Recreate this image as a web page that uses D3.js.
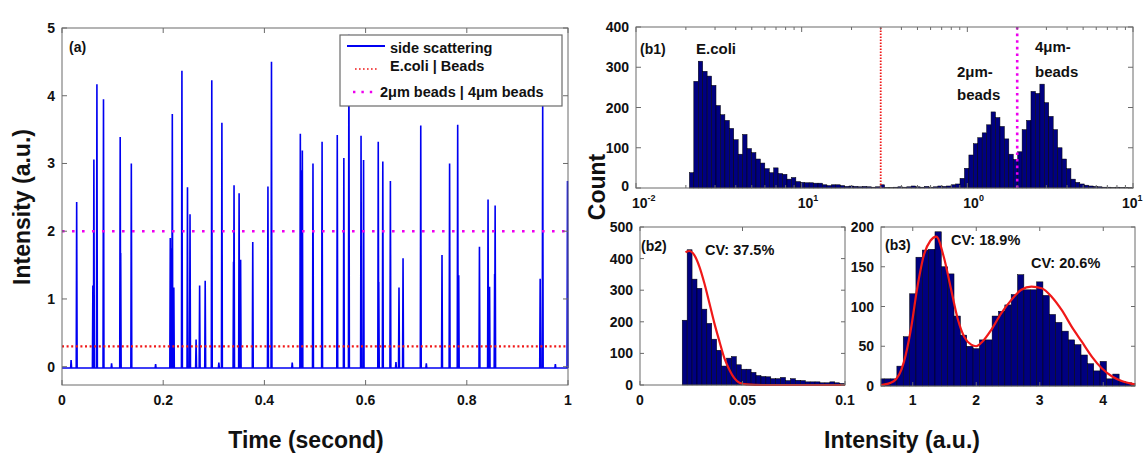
<!DOCTYPE html>
<html>
<head>
<meta charset="utf-8">
<script src="https://cdn.jsdelivr.net/npm/d3@7"></script>
<style>
  body { margin: 0; background: #fff; }
  text { font-family: "Liberation Sans", Arial, sans-serif; font-weight: bold; fill: #111; }
</style>
</head>
<body>
<script>

// VARIABILI PER DOM
//
var width = 1145;
var height = 453;

// PANNELLO (a): PICCHI DEL SEGNALE DI SIDE SCATTERING
//
var spikeTimes = [0.018, 0.029, 0.061, 0.063, 0.069, 0.082, 0.098, 0.115, 0.116, 0.137,
  0.185, 0.214, 0.217, 0.218, 0.221, 0.237, 0.248, 0.253, 0.265, 0.272,
  0.283, 0.296, 0.310, 0.316, 0.339, 0.340, 0.350, 0.353, 0.377, 0.407,
  0.414, 0.455, 0.471, 0.473, 0.475, 0.496, 0.514, 0.544, 0.557, 0.567,
  0.591, 0.596, 0.625, 0.626, 0.634, 0.649, 0.660, 0.666, 0.674, 0.709,
  0.720, 0.751, 0.766, 0.782, 0.784, 0.825, 0.842, 0.845, 0.855, 0.856,
  0.945, 0.950, 0.975, 0.999];
var spikeHeights = [0.10, 2.43, 1.20, 3.06, 4.17, 3.95, 0.05, 3.39, 1.68, 3.00,
  0.04, 1.90, 1.75, 3.73, 1.17, 4.37, 2.65, 2.25, 0.40, 1.20,
  1.27, 4.23, 0.06, 3.60, 1.55, 2.68, 2.56, 1.58, 1.84, 2.66,
  4.50, 0.06, 3.44, 2.90, 3.19, 3.00, 3.32, 3.42, 3.08, 4.90,
  3.41, 3.05, 3.32, 1.25, 3.03, 2.74, 0.07, 1.17, 1.60, 3.56,
  0.05, 1.65, 3.00, 3.57, 1.35, 1.77, 2.47, 1.18, 1.37, 2.38,
  1.30, 3.89, 0.04, 2.74];
var baseLevel = -0.02;
var ecoliThreshold = 0.3;
var beadThreshold = 2;
var timeTicks = [0, 0.2, 0.4, 0.6, 0.8, 1];
var timeTickLabels = ["0", "0.2", "0.4", "0.6", "0.8", "1"];
var intensityTicks = [0, 1, 2, 3, 4, 5];
var legendLabels = ["side scattering", "E.coli | Beads", "2\u03bcm beads | 4\u03bcm beads"];

// PANNELLO (b1): ISTOGRAMMA LOGARITMICO
//
var b1FirstEdge = 0.021;
var b1LogStep = 0.02678;
var b1Counts = [38, 265, 315, 290, 278, 255, 205, 182, 168, 148, 120, 84, 133, 98, 88, 72, 62, 48, 38, 50,
  36, 34, 22, 26, 16, 14, 13, 13, 12, 12, 8, 6, 8, 8, 6, 4, 5, 4, 3, 4,
  3, 2, 3, 8, 1, 1, 2, 3, 2, 3, 5, 3, 2, 4, 2, 3, 5, 4, 5, 8,
  10, 24, 49, 82, 110, 125, 137, 157, 189, 175, 153, 122, 84, 71,
  90, 145, 168, 240, 235, 258, 212, 178, 145, 100, 72, 48, 22, 14, 10, 7, 5, 4, 3, 2, 2, 1, 2, 1, 1, 1];
var b1Ticks = [0.01, 0.1, 1, 10];
var b1TickExponents = ["-2", "1", "0", "1"];
var b1CountTicks = [0, 100, 200, 300, 400];

// PANNELLO (b2): E.COLI
//
var b2FirstEdge = 0.0206;
var b2Step = 0.0024;
var b2Counts = [205, 428, 335, 306, 240, 195, 145, 110, 60, 85, 90, 64, 50, 50, 40, 30, 27, 26, 20, 20,
  24, 14, 20, 15, 14, 10, 10, 10, 7, 7, 10, 7, 5];
var b2FitX = [0.0222, 0.0241, 0.0265, 0.029, 0.0314, 0.0339, 0.0363, 0.0388, 0.0412, 0.0437, 0.0461, 0.0485, 0.052, 0.06, 0.1];
var b2FitY = [420, 424, 411, 374, 322, 258, 195, 137, 84, 47, 21, 7, 2, 0, 0];
var b2XTicks = [0, 0.05, 0.1];
var b2XLabels = ["0", "0.05", "0.1"];
var b2YTicks = [0, 100, 200, 300, 400, 500];

// PANNELLO (b3): BEADS 2um E 4um
//
var b3FirstCenter = 0.5;
var b3Step = 0.1;
var b3Counts = [9, 9, 9, 25, 62, 116, 162, 171, 172, 194, 150, 141, 88, 64, 50, 47, 58, 58, 88, 94,
  102, 115, 140, 121, 121, 131, 114, 90, 80, 69, 58, 52, 39, 28, 19, 31, 9, 15, 6, 4, 3];
var b3FitX = [0.5, 0.7, 0.86, 0.97, 1.07, 1.18, 1.28, 1.37, 1.49, 1.6, 1.71, 1.81, 1.92, 2.0, 2.1,
  2.24, 2.39, 2.55, 2.71, 2.87, 3.03, 3.19, 3.35, 3.5, 3.66, 3.82, 3.98, 4.14, 4.3, 4.5];
var b3FitY = [1, 6, 30, 71, 123, 166, 183, 188, 162, 123, 84, 62, 52, 50, 56,
  71, 91, 108, 121, 125, 123, 112, 95, 75, 56, 37, 22, 12, 6, 2];
var b3XTicks = [1, 2, 3, 4];
var b3YTicks = [0, 50, 100, 150, 200];

// COLORI
//
var traceColor = "#0000f2";
var redColor = "#f01818";
var magentaColor = "#ee00ee";
var barColor = "#000080";
var frameColor = "#6a6a6a";

var svg = d3.select("body").append("svg")
  .attr("width", width)
  .attr("height", height);

// FUNZIONI DI SUPPORTO
//
function drawFrame(x, y) {
  svg.append("rect")
    .attr("x", x.range()[0]).attr("y", y.range()[1])
    .attr("width", x.range()[1] - x.range()[0])
    .attr("height", y.range()[0] - y.range()[1])
    .attr("fill", "none")
    .attr("stroke", frameColor)
    .attr("stroke-width", 1);
}

function drawTicks(x, y, xTicks, yTicks, len) {
  var g = svg.append("g").attr("stroke", frameColor).attr("stroke-width", 1);
  var yb = y.range()[0], yt = y.range()[1];
  var xl = x.range()[0], xr = x.range()[1];
  xTicks.forEach(function(t) {
    g.append("line").attr("x1", x(t)).attr("x2", x(t)).attr("y1", yb).attr("y2", yb - len);
    g.append("line").attr("x1", x(t)).attr("x2", x(t)).attr("y1", yt).attr("y2", yt + len);
  });
  yTicks.forEach(function(t) {
    g.append("line").attr("x1", xl).attr("x2", xl + len).attr("y1", y(t)).attr("y2", y(t));
    g.append("line").attr("x1", xr).attr("x2", xr - len).attr("y1", y(t)).attr("y2", y(t));
  });
}

function yLabels(x, y, ticks, lift) {
  svg.append("g").selectAll("text").data(ticks).enter().append("text")
    .attr("x", x.range()[0] - 7)
    .attr("y", function(d) { return y(d) + 5 - (d === 0 ? (lift || 0) : 0); })
    .attr("text-anchor", "end")
    .style("font-size", "14px")
    .text(function(d) { return d; });
}

function xLabels(x, ticks, labels, yPos) {
  svg.append("g").selectAll("text").data(ticks).enter().append("text")
    .attr("x", function(d) { return x(d); })
    .attr("y", yPos)
    .attr("text-anchor", "middle")
    .style("font-size", "14px")
    .text(function(d, i) { return labels[i]; });
}

function note(x, y, txt, size) {
  svg.append("text").attr("x", x).attr("y", y)
    .style("font-size", size + "px")
    .text(txt);
}

// PANNELLO (a)
//
var xa = d3.scaleLinear().domain([0, 1]).range([62, 568]);
var ya = d3.scaleLinear().domain([-0.27, 5]).range([385, 28]);

var tracePoints = [[0, baseLevel]];
spikeTimes.forEach(function(t, i) {
  tracePoints.push([t - 0.0009, baseLevel], [t, spikeHeights[i]], [t + 0.0009, baseLevel]);
});
tracePoints.push([1, baseLevel]);

var lineA = d3.line().x(function(d) { return xa(d[0]); }).y(function(d) { return ya(d[1]); });

svg.append("path")
  .attr("d", lineA(tracePoints))
  .attr("fill", "none")
  .attr("stroke", traceColor)
  .attr("stroke-width", 1.6);

svg.append("line")
  .attr("x1", xa(0)).attr("x2", xa(1))
  .attr("y1", ya(ecoliThreshold)).attr("y2", ya(ecoliThreshold))
  .attr("stroke", redColor).attr("stroke-width", 2.2)
  .attr("stroke-dasharray", "2,2.6");

svg.append("line")
  .attr("x1", xa(0)).attr("x2", xa(1))
  .attr("y1", ya(beadThreshold)).attr("y2", ya(beadThreshold))
  .attr("stroke", magentaColor).attr("stroke-width", 2.6)
  .attr("stroke-dasharray", "2.6,7.4");

drawFrame(xa, ya);
drawTicks(xa, ya, timeTicks, intensityTicks, 5);
yLabels(xa, ya, intensityTicks);
xLabels(xa, timeTicks, timeTickLabels, 405);
note(69, 52, "(a)", 14);

// LEGENDA
//
var legend = svg.append("g");
legend.append("rect")
  .attr("x", 340).attr("y", 35).attr("width", 222).attr("height", 71)
  .attr("fill", "#fff").attr("stroke", frameColor).attr("stroke-width", 1.2);
legend.append("line").attr("x1", 347).attr("x2", 385).attr("y1", 46).attr("y2", 46)
  .attr("stroke", traceColor).attr("stroke-width", 2);
legend.append("line").attr("x1", 355).attr("x2", 378).attr("y1", 69).attr("y2", 69)
  .attr("stroke", redColor).attr("stroke-width", 1.6).attr("stroke-dasharray", "1.6,2.4");
legend.append("line").attr("x1", 353).attr("x2", 378).attr("y1", 92).attr("y2", 92)
  .attr("stroke", magentaColor).attr("stroke-width", 2.4).attr("stroke-dasharray", "2.4,6");
legend.selectAll("text.lab").data(legendLabels).enter().append("text")
  .attr("x", function(d, i) { return i == 2 ? 380 : 390; })
  .attr("y", function(d, i) { return [53, 71, 97][i]; })
  .style("font-size", "14.5px")
  .text(function(d) { return d; });

svg.append("text")
  .attr("transform", "translate(30,207) rotate(-90)")
  .attr("text-anchor", "middle")
  .style("font-size", "23px")
  .text("Intensity (a.u.)");
svg.append("text")
  .attr("x", 306).attr("y", 448)
  .attr("text-anchor", "middle")
  .style("font-size", "23px")
  .text("Time (second)");

// PANNELLO (b1)
//
var xb1 = d3.scaleLog().domain([0.01, 10]).range([636, 1133]);
var yb1 = d3.scaleLinear().domain([0, 400]).range([188, 27]);

var logStart = Math.log10(b1FirstEdge);
svg.append("g").selectAll("rect").data(b1Counts).enter().append("rect")
  .attr("x", function(d, i) { return xb1(Math.pow(10, logStart + i * b1LogStep)); })
  .attr("width", function(d, i) {
    return xb1(Math.pow(10, logStart + (i + 1) * b1LogStep)) - xb1(Math.pow(10, logStart + i * b1LogStep));
  })
  .attr("y", function(d) { return yb1(d); })
  .attr("height", function(d) { return yb1(0) - yb1(d); })
  .attr("fill", barColor)
  .attr("stroke", "#000")
  .attr("stroke-width", 0.5);

svg.append("line")
  .attr("x1", xb1(ecoliThreshold)).attr("x2", xb1(ecoliThreshold))
  .attr("y1", yb1(0)).attr("y2", yb1(400))
  .attr("stroke", redColor).attr("stroke-width", 1.8)
  .attr("stroke-dasharray", "1.5,1.5");
svg.append("line")
  .attr("x1", xb1(beadThreshold)).attr("x2", xb1(beadThreshold))
  .attr("y1", yb1(0)).attr("y2", yb1(400))
  .attr("stroke", magentaColor).attr("stroke-width", 2.6)
  .attr("stroke-dasharray", "2.6,4");

var minorB1 = [];
[0.01, 0.1, 1].forEach(function(dec) {
  for (var m = 2; m <= 9; m++) minorB1.push(m * dec);
});
drawFrame(xb1, yb1);
drawTicks(xb1, yb1, b1Ticks, b1CountTicks, 5);
var mg = svg.append("g").attr("stroke", frameColor).attr("stroke-width", 1);
minorB1.forEach(function(t) {
  mg.append("line").attr("x1", xb1(t)).attr("x2", xb1(t)).attr("y1", 188).attr("y2", 185);
  mg.append("line").attr("x1", xb1(t)).attr("x2", xb1(t)).attr("y1", 27).attr("y2", 30);
});
yLabels(xb1, yb1, b1CountTicks, 2);

// ETICHETTE LOG: "10" CON ESPONENTE
//
var b1Lab = svg.append("g").selectAll("text").data(b1Ticks).enter().append("text")
  .attr("x", function(d) { return Math.min(xb1(d) - 4, 1122); })
  .attr("y", 208)
  .attr("text-anchor", "start")
  .style("font-size", "14px");
b1Lab.append("tspan").text("10");
b1Lab.append("tspan")
  .attr("dy", -7)
  .style("font-size", "9px")
  .text(function(d, i) { return b1TickExponents[i]; });

note(640, 54, "(b1)", 14);
note(696, 54, "E.coli", 15);
note(957, 77, "2\u03bcm-", 15);
note(957, 100, "beads", 15);
note(1035, 52, "4\u03bcm-", 15);
note(1035, 77, "beads", 15);

// PANNELLO (b2)
//
var xb2 = d3.scaleLinear().domain([0, 0.1]).range([640, 845]);
var yb2 = d3.scaleLinear().domain([0, 500]).range([385, 227]);

svg.append("g").selectAll("rect").data(b2Counts).enter().append("rect")
  .attr("x", function(d, i) { return xb2(b2FirstEdge + i * b2Step); })
  .attr("width", function(d, i) { return xb2(b2FirstEdge + (i + 1) * b2Step) - xb2(b2FirstEdge + i * b2Step); })
  .attr("y", function(d) { return yb2(d); })
  .attr("height", function(d) { return yb2(0) - yb2(d); })
  .attr("fill", barColor)
  .attr("stroke", "#000")
  .attr("stroke-width", 0.5);

var lineB2 = d3.line()
  .x(function(d, i) { return xb2(b2FitX[i]); })
  .y(function(d) { return yb2(d); })
  .curve(d3.curveMonotoneX);
svg.append("path")
  .attr("d", lineB2(b2FitY))
  .attr("fill", "none")
  .attr("stroke", redColor)
  .attr("stroke-width", 2.2);

drawFrame(xb2, yb2);
drawTicks(xb2, yb2, b2XTicks, b2YTicks, 4);
yLabels(xb2, yb2, b2YTicks);
xLabels(xb2, b2XTicks, b2XLabels, 405);
note(641, 251, "(b2)", 14);
note(705, 255, "CV: 37.5%", 14.5);

// PANNELLO (b3)
//
var xb3 = d3.scaleLinear().domain([0.5, 4.5]).range([881, 1135]);
var yb3 = d3.scaleLinear().domain([0, 200]).range([386, 227]);

svg.append("g").selectAll("rect").data(b3Counts).enter().append("rect")
  .attr("x", function(d, i) { return xb3(Math.max(0.5, b3FirstCenter + (i - 0.5) * b3Step)); })
  .attr("width", function(d, i) {
    var lo = Math.max(0.5, b3FirstCenter + (i - 0.5) * b3Step);
    var hi = Math.min(4.5, b3FirstCenter + (i + 0.5) * b3Step);
    return xb3(hi) - xb3(lo);
  })
  .attr("y", function(d) { return yb3(d); })
  .attr("height", function(d) { return yb3(0) - yb3(d); })
  .attr("fill", barColor)
  .attr("stroke", "#000")
  .attr("stroke-width", 0.5);

var lineB3 = d3.line()
  .x(function(d, i) { return xb3(b3FitX[i]); })
  .y(function(d) { return yb3(d); })
  .curve(d3.curveMonotoneX);
svg.append("path")
  .attr("d", lineB3(b3FitY))
  .attr("fill", "none")
  .attr("stroke", redColor)
  .attr("stroke-width", 2.2);

drawFrame(xb3, yb3);
drawTicks(xb3, yb3, b3XTicks, b3YTicks, 4);
yLabels(xb3, yb3, b3YTicks);
xLabels(xb3, b3XTicks, ["1", "2", "3", "4"], 405);
note(885, 250, "(b3)", 14);
note(951, 245, "CV: 18.9%", 14.5);
note(1031, 268, "CV: 20.6%", 14.5);

// TITOLI ASSI CONDIVISI
//
svg.append("text")
  .attr("transform", "translate(605,187) rotate(-90)")
  .attr("text-anchor", "middle")
  .style("font-size", "23px")
  .text("Count");
svg.append("text")
  .attr("x", 902).attr("y", 448)
  .attr("text-anchor", "middle")
  .style("font-size", "23px")
  .text("Intensity (a.u.)");

</script>
</body>
</html>
